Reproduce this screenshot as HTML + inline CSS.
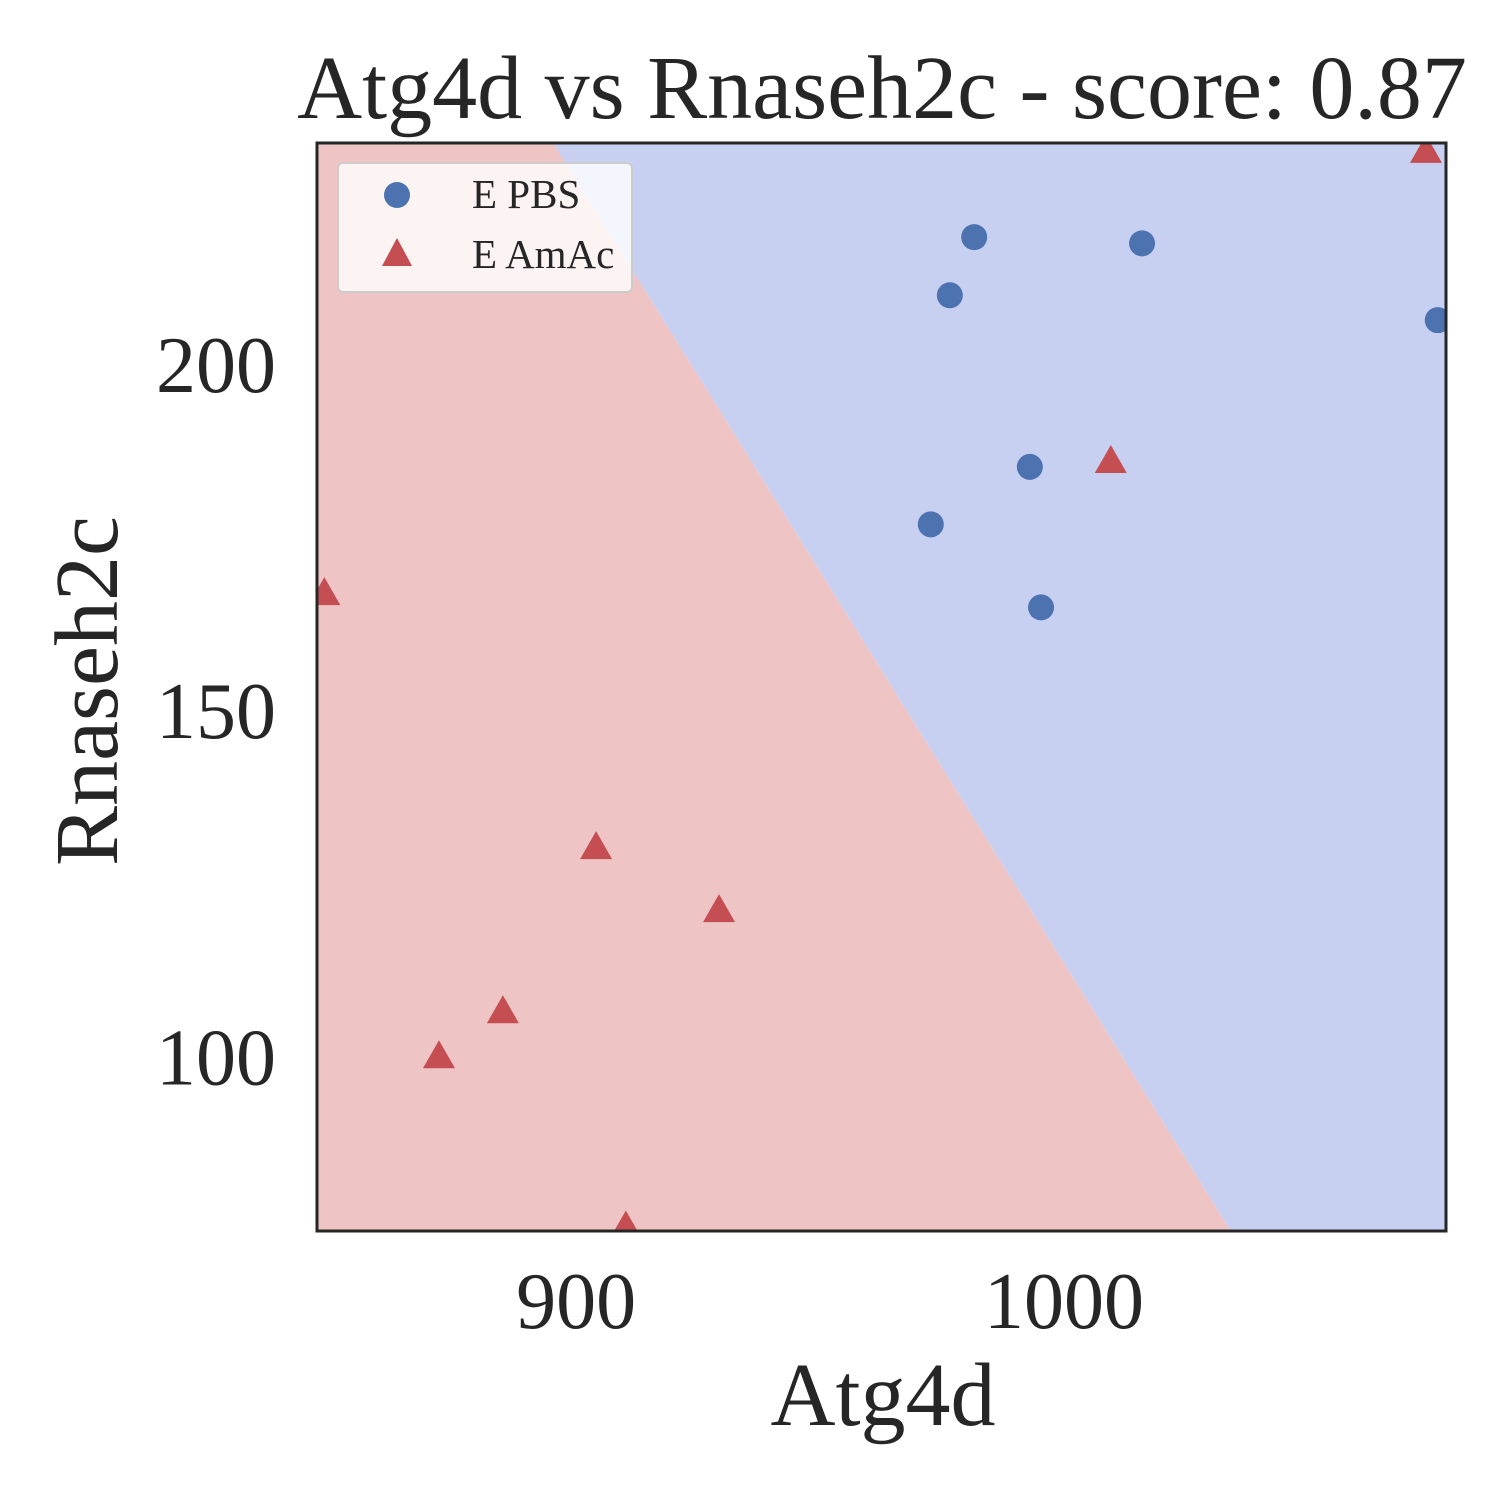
<!DOCTYPE html>
<html><head><meta charset="utf-8"><style>
html,body{margin:0;padding:0;background:#fff;}
svg{display:block;font-family:"Liberation Serif",serif;}
</style></head><body>
<svg id="chart" width="1500" height="1500" viewBox="0 0 1500 1500">
<defs><clipPath id="clip"><rect x="317" y="143" width="1129" height="1088"/></clipPath></defs>
<g id="plot" clip-path="url(#clip)"></g>
<rect x="317" y="143" width="1129" height="1088" fill="none" stroke="#262626" stroke-width="3"/>
<g id="ticks"></g>
<text x="882" y="118" font-size="90" text-anchor="middle" fill="#262626">Atg4d vs Rnaseh2c - score: 0.87</text>
<text x="883" y="1425" font-size="90" text-anchor="middle" fill="#262626">Atg4d</text>
<text transform="translate(117,691) rotate(-90)" font-size="90" text-anchor="middle" fill="#262626">Rnaseh2c</text>
<g>
<rect x="338" y="163" width="294" height="129" rx="5" fill="#ffffff" fill-opacity="0.8" stroke="#cccccc" stroke-width="2"/>
<circle cx="397" cy="195" r="13" fill="#4c72b0"/>
<text x="472" y="208" font-size="41" fill="#262626">E PBS</text>
<polygon points="397,238 412,266 382,266" fill="#c44e52"/>
<text x="472" y="268" font-size="41" fill="#262626">E AmAc</text>
</g>
</svg>
<script>
const xDomain=[846.9,1078.3];
const yDomain=[74.9,232.1];
const xTicks=[900,1000];
const yTicks=[100,150,200];
const boundaryX=[895.3,1034.2];
const boundaryY=[232.1,74.9];
const pbsX=[981.6,1016.0,976.6,1076.6,993.0,972.7,995.3];
const pbsY=[218.5,217.6,210.1,206.5,185.3,177.0,165.0];
const amacX=[1074.2,848.4,1009.6,904.1,929.3,885.0,871.9,910.2];
const amacY=[231.1,167.2,186.3,130.5,121.4,106.8,100.3,75.7];
const L=317,R=1446,T=143,B=1231;
const sx=v=>L+(v-xDomain[0])/(xDomain[1]-xDomain[0])*(R-L);
const sy=v=>B-(v-yDomain[0])/(yDomain[1]-yDomain[0])*(B-T);
const NS="http://www.w3.org/2000/svg";
const plot=document.getElementById('plot');
const ticks=document.getElementById('ticks');
function mk(tag,attrs,parent){const e=document.createElementNS(NS,tag);for(const k in attrs)e.setAttribute(k,attrs[k]);parent.appendChild(e);return e;}
const bx0=sx(boundaryX[0]),by0=sy(boundaryY[0]),bx1=sx(boundaryX[1]),by1=sy(boundaryY[1]);
const slope=(bx1-bx0)/(by1-by0);
const xt=bx0+(T-by0)*slope, xb=bx0+(B-by0)*slope;
let red=mk('polygon',{points:`${L},${T} ${xt},${T} ${xb},${B} ${L},${B}`,fill:'#eec4c4'},plot);


let blue=mk('polygon',{points:`${xt},${T} ${R},${T} ${R},${B} ${xb},${B}`,fill:'#c8d0f2'},plot);


for(let i=0;i<pbsX.length;i++){
 const c=mk('circle',{cx:sx(pbsX[i]),cy:sy(pbsY[i]),r:13,fill:'#4c72b0'},plot);
 
 
}
for(let i=0;i<amacX.length;i++){
 const x=sx(amacX[i]),y=sy(amacY[i]);
 const p=mk('polygon',{points:`${x},${y-15} ${x+16},${y+13} ${x-16},${y+13}`,fill:'#c44e52'},plot);
 
 
}
for(const t of xTicks){
 const e=mk('text',{x:sx(t),y:1328,'font-size':80,'text-anchor':'middle',fill:'#262626'},ticks);
 e.textContent=t;
 
 
}
for(const t of yTicks){
 const e=mk('text',{x:276,y:sy(t)+27,'font-size':80,'text-anchor':'end',fill:'#262626'},ticks);
 e.textContent=t;
 
 
}
</script>
</body></html>
